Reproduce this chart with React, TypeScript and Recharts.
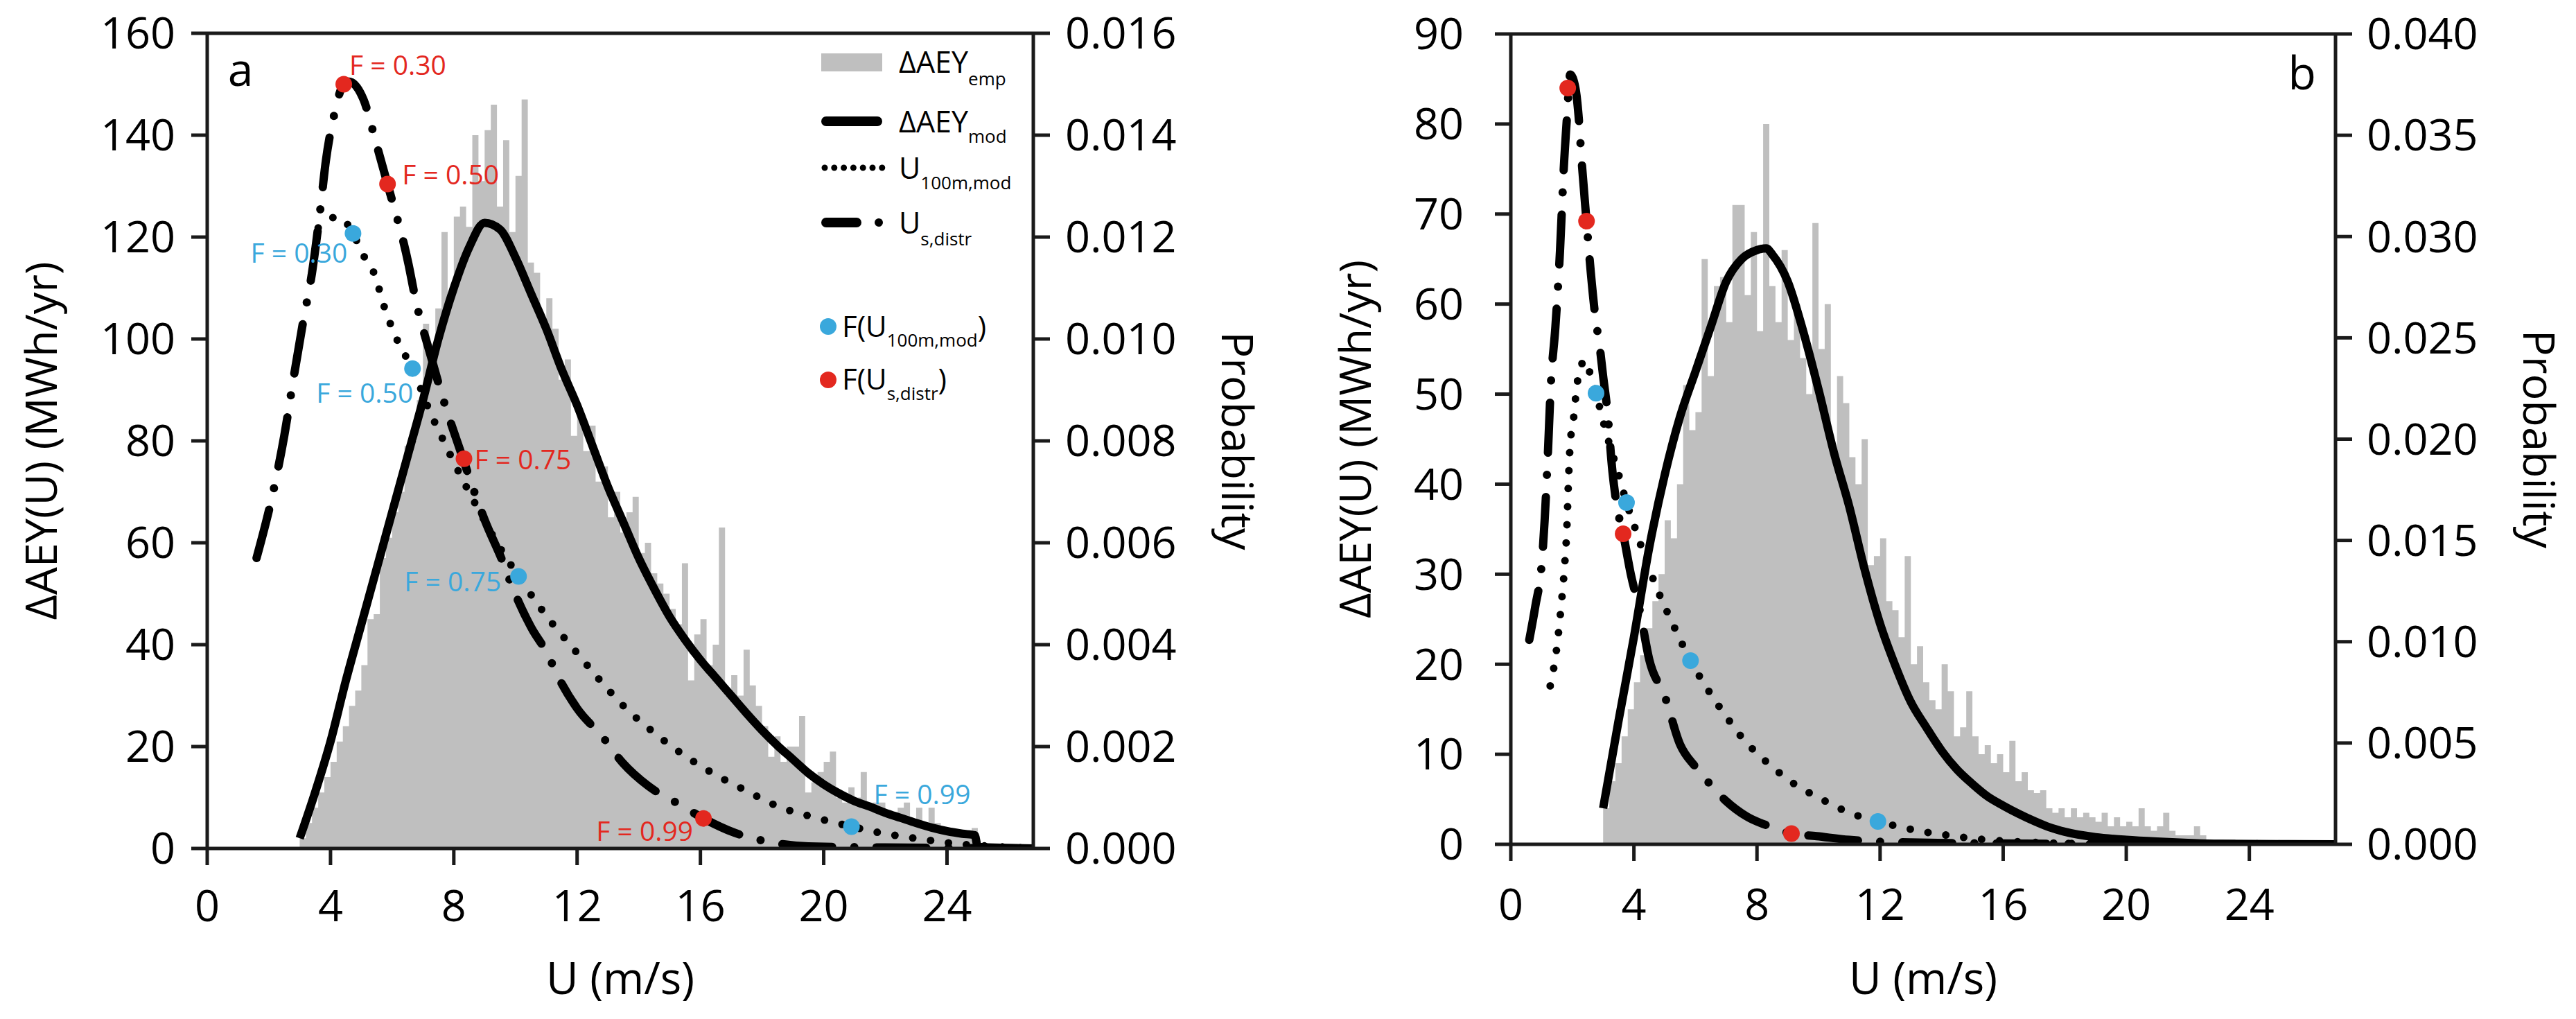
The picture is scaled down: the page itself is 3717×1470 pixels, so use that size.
import React from 'react';
import { ComposedChart, Area, Line, Scatter, XAxis, YAxis, ReferenceLine, Legend } from 'recharts';

const FONT = "'Open Sans', sans-serif";
const AXIS = '#1a1a1a';
const GRAY = '#bfbfbf';
const RED = '#e3281f';
const BLUE = '#3aa8dc';

// histogram bins: 0.2 m/s wide, first bin starts at 3.0 m/s
const BIN_WIDTH = 0.2;
const histStartA = 3.0;
const histStartB = 3.0;

// ΔAEY_emp per bin (MWh/yr), panel a
const histValuesA = [
  2, 5, 8, 11, 14, 17, 21, 24, 28, 31,
  36, 45, 46, 57, 61, 66, 70, 79, 80, 88,
  103, 94, 106, 121, 108, 124, 126, 122, 140, 131,
  141, 146, 126, 139, 121, 132, 147, 115, 113, 104,
  108, 102, 92, 96, 81, 86, 78, 83, 72, 75,
  65, 70, 62, 66, 69, 58, 60, 54, 52, 50,
  47, 44, 56, 33, 42, 45, 36, 40, 63, 30,
  34, 30, 39, 32, 28, 24, 18, 22, 17, 20,
  20, 26, 11, 13, 15, 17, 19, 10, 9, 12,
  10, 15, 8, 9, 9, 7, 6, 8, 9, 5,
  8, 5, 8, 5, 4, 4, 3, 3, 3, 4,
];

// ΔAEY_emp per bin (MWh/yr), panel b
const histValuesB = [
  4, 7, 9, 12, 15, 18, 21, 24, 27, 30,
  36, 34, 40, 51, 46, 48, 65, 52, 62, 63,
  58, 71, 71, 61, 68, 57, 80, 62, 58, 66,
  56, 60, 54, 50, 69, 55, 60, 44, 52, 49,
  43, 40, 45, 31, 32, 34, 27, 26, 23, 32,
  20, 22, 18, 16, 15, 20, 17, 12, 13, 17,
  12, 10, 11, 9, 10, 8, 11.5, 7, 8, 6,
  5.7, 6, 4, 3.5, 4, 3, 4, 3, 3.5, 3,
  2.5, 3.5, 2, 3, 2, 2.5, 2, 4, 2, 1.5,
  2, 3.5, 1.5, 1, 1, 1, 2, 1,
];

// ΔAEY_mod (MWh/yr), [U, value]
const aeyModA: [number, number][] = [
  [3.0, 2], [3.5, 11], [4.0, 21], [4.5, 33], [5.0, 44], [5.5, 55], [6.0, 66], [6.5, 77],
  [7.0, 88], [7.5, 100], [8.0, 110], [8.5, 118], [9.0, 122.8], [9.5, 121.5], [10.0, 116],
  [10.5, 109], [11.0, 102], [11.5, 94], [12.0, 87], [12.5, 79], [13.0, 71], [13.5, 64],
  [14.0, 57], [14.5, 51], [15.0, 45.5], [15.5, 41], [16.0, 37], [16.5, 33.5], [17.0, 30],
  [17.5, 26.5], [18.0, 23.2], [18.5, 20.2], [19.0, 17.5], [19.5, 14.8], [20.0, 12.6],
  [20.5, 10.8], [21.0, 9.3], [21.5, 8.2], [22.0, 7.0], [22.5, 6.0], [23.0, 5.0], [23.5, 4.1],
  [24.0, 3.4], [24.5, 2.9], [24.9, 2.6], [25.0, 0.3], [26.8, 0],
];
const aeyModB: [number, number][] = [
  [3.0, 4], [3.5, 13.7], [4.0, 23], [4.5, 33], [5.0, 41], [5.5, 47.5], [6.0, 52.5], [6.5, 57.5],
  [7.0, 62.5], [7.5, 65], [8.0, 66], [8.3, 66.2], [8.5, 65.5], [9.0, 62.5], [9.5, 57],
  [10.0, 50.5], [10.5, 43.5], [11.0, 37.5], [11.5, 30.5], [12.0, 24.5], [12.5, 19.8],
  [13.0, 15.8], [13.5, 13], [14.0, 10.4], [14.5, 8.3], [15.0, 6.7], [15.5, 5.3], [16.0, 4.3],
  [16.5, 3.4], [17.0, 2.6], [17.5, 1.9], [18.0, 1.4], [19.0, 0.8], [20.0, 0.5], [21.0, 0.3],
  [22.0, 0.15], [23.0, 0.05], [26.8, 0],
];

// U_100m,mod probability, [U, p]
const u100A: [number, number][] = [
  [3.6, 0.01218], [3.97, 0.01235], [4.2, 0.0124], [4.5, 0.01229], [4.73, 0.01207], [5.07, 0.01164],
  [5.42, 0.01128], [5.76, 0.0106], [6.2, 0.00993], [6.66, 0.00942], [7.22, 0.00858], [7.7, 0.00796],
  [8.25, 0.00728], [8.8, 0.00665], [9.4, 0.006], [10.1, 0.00534], [11.15, 0.00445], [11.94, 0.00388],
  [12.7, 0.00333], [13.5, 0.0028], [14.46, 0.00229], [15.4, 0.00186], [16.45, 0.00146], [17.5, 0.00113],
  [18.5, 0.00083], [19.7, 0.00061], [20.9, 0.00043], [21.9, 0.0003], [23.2, 0.00018], [24.5, 0.00008],
  [25.5, 0.00004], [26.5, 0.00001],
];
const u100B: [number, number][] = [
  [1.28, 0.00782], [1.5, 0.00978], [1.65, 0.012], [1.75, 0.01378], [1.82, 0.01556], [1.87, 0.01778],
  [1.93, 0.01978], [2.03, 0.02089], [2.15, 0.02267], [2.27, 0.02356], [2.42, 0.02391], [2.6, 0.02311],
  [2.77, 0.02227], [3.0, 0.02089], [3.2, 0.01978], [3.46, 0.01849], [3.76, 0.01687], [4.0, 0.01578],
  [4.4, 0.014], [4.8, 0.01244], [5.3, 0.01076], [5.84, 0.00907], [6.4, 0.00764], [7.0, 0.00631],
  [7.5, 0.00529], [8.0, 0.00449], [8.5, 0.00382], [9.0, 0.0032], [9.5, 0.00271], [10.0, 0.00231],
  [10.5, 0.00191], [11.0, 0.00156], [11.93, 0.00113], [12.7, 0.00084], [13.4, 0.00062], [14.0, 0.00049],
  [14.6, 0.00036], [15.5, 0.00022], [16.5, 0.00013], [17.5, 0.00007], [19.0, 0.00002],
];

// U_s,distr probability, [U, p]
const usDistrA: [number, number][] = [
  [1.6, 0.0057], [2.15, 0.00703], [2.5, 0.0081], [2.82, 0.0093], [3.1, 0.0103], [3.4, 0.0113],
  [3.66, 0.0125], [3.85, 0.0135], [4.1, 0.01435], [4.43, 0.015], [4.6, 0.01505], [5.07, 0.0147],
  [5.5, 0.0138], [5.85, 0.01304], [6.53, 0.01147], [6.75, 0.0108], [7.26, 0.00965], [7.65, 0.00883],
  [8.3, 0.00765], [8.55, 0.0072], [9.0, 0.00645], [9.58, 0.00564], [9.92, 0.0051], [10.5, 0.00435],
  [11.0, 0.00386], [11.47, 0.00327], [12.0, 0.00275], [12.84, 0.00218], [13.48, 0.00168],
  [14.3, 0.00123], [15.33, 0.00086], [16.1, 0.00059], [17.1, 0.00031], [18.3, 0.00012],
  [19.5, 0.00004], [22.0, 0.00002], [26.8, 0],
];
const usDistrB: [number, number][] = [
  [0.6, 0.01009], [0.8, 0.01178], [1.0, 0.01378], [1.1, 0.016], [1.2, 0.01911], [1.3, 0.02267],
  [1.45, 0.02556], [1.6, 0.02933], [1.72, 0.03333], [1.82, 0.03578], [1.93, 0.038], [2.1, 0.03733],
  [2.2, 0.036], [2.3, 0.03378], [2.46, 0.03076], [2.6, 0.02822], [2.75, 0.026], [2.88, 0.02467],
  [3.0, 0.02311], [3.13, 0.02151], [3.3, 0.01844], [3.45, 0.01667], [3.65, 0.01533], [3.9, 0.01333],
  [4.2, 0.01147], [4.5, 0.00911], [5.0, 0.00733], [5.5, 0.00493], [6.0, 0.00382], [6.5, 0.00293],
  [7.0, 0.00213], [7.66, 0.00138], [8.5, 0.00084], [9.12, 0.00053], [9.94, 0.0004], [11.0, 0.00022],
  [13.0, 0.00009], [16.0, 0.00004], [20.0, 0.00002], [26.8, 0],
];

// quantile markers F(U), [U, p, F]
const fU100A: [number, number, string][] = [
  [4.73, 0.01207, '0.30'], [6.66, 0.00942, '0.50'], [10.1, 0.00534, '0.75'], [20.9, 0.00043, '0.99'],
];
const fUsA: [number, number, string][] = [
  [4.43, 0.015, '0.30'], [5.85, 0.01304, '0.50'], [8.33, 0.00765, '0.75'], [16.1, 0.00059, '0.99'],
];
const fU100B: [number, number, string][] = [
  [2.77, 0.02227, '0.30'], [3.76, 0.01687, '0.50'], [5.84, 0.00907, '0.75'], [11.93, 0.00113, '0.99'],
];
const fUsB: [number, number, string][] = [
  [1.85, 0.03733, '0.30'], [2.46, 0.03076, '0.50'], [3.65, 0.01533, '0.75'], [9.12, 0.00053, '0.99'],
];

const xTicks = [0, 4, 8, 12, 16, 20, 24];
const leftTicksA = [0, 20, 40, 60, 80, 100, 120, 140, 160];
const rightTicksA = [0, 0.002, 0.004, 0.006, 0.008, 0.01, 0.012, 0.014, 0.016];
const leftTicksB = [0, 10, 20, 30, 40, 50, 60, 70, 80, 90];
const rightTicksB = [0, 0.005, 0.01, 0.015, 0.02, 0.025, 0.03, 0.035, 0.04];

// where the "F = ..." text sits relative to its marker (panel a only)
type LabelPos = { dx: number; dy: number; anchor: 'start' | 'end' };
const redLabelPosA: Record<string, LabelPos> = {
  '0.30': { dx: 8, dy: -29, anchor: 'start' },
  '0.50': { dx: 21, dy: -15, anchor: 'start' },
  '0.75': { dx: 15, dy: 0, anchor: 'start' },
  '0.99': { dx: -15, dy: 17, anchor: 'end' },
};
const blueLabelPosA: Record<string, LabelPos> = {
  '0.30': { dx: -8, dy: 27, anchor: 'end' },
  '0.50': { dx: 1, dy: 34, anchor: 'end' },
  '0.75': { dx: -25, dy: 6, anchor: 'end' },
  '0.99': { dx: 32, dy: -48, anchor: 'start' },
};

// step outline of the histogram: one point per bin start, plus the closing edge of the last bin
const toHist = (start: number, values: number[]) => {
  const pts = values.map((v, i) => ({ u: +(start + BIN_WIDTH * i).toFixed(2), v }));
  pts.push({ u: +(start + BIN_WIDTH * values.length).toFixed(2), v: values[values.length - 1] });
  return pts;
};
const toPts = (arr: [number, number][]) => arr.map(([u, p]) => ({ u, p }));
const toMarks = (arr: [number, number, string][]) => arr.map(([u, p, f]) => ({ u, p, f }));

const FMarker = (props: any) => {
  const { cx, cy, payload, color, labels } = props;
  const pos = labels ? labels[payload.f] : undefined;
  return (
    <g>
      <circle cx={cx} cy={cy} r={12} fill={color} />
      {pos && (
        <text x={cx + pos.dx} y={cy + pos.dy} textAnchor={pos.anchor} dominantBaseline="central"
          fontSize={39} fill={color}>
          F = {payload.f}
        </text>
      )}
    </g>
  );
};

const SUB = 26;
const LegendA = () => (
  <svg width={520} height={540} style={{ overflow: 'visible', fontFamily: FONT }}>
    <rect x={15} y={17} width={88} height={26} fill={GRAY} />
    <text x={127} y={45} fontSize={43}>ΔAEY<tspan fontSize={SUB} dy={18}>emp</tspan></text>
    <line x1={22} y1={115} x2={96} y2={115} stroke="#000" strokeWidth={14} strokeLinecap="round" />
    <text x={127} y={131} fontSize={43}>ΔAEY<tspan fontSize={SUB} dy={15}>mod</tspan></text>
    <line x1={20} y1={182} x2={103} y2={182} stroke="#000" strokeWidth={9}
      strokeDasharray="0 13.8" strokeLinecap="round" />
    <text x={127} y={198} fontSize={43}>U<tspan fontSize={SUB} dy={15}>100m,mod</tspan></text>
    <line x1={22} y1={261} x2={66} y2={261} stroke="#000" strokeWidth={14} strokeLinecap="round" />
    <circle cx={98} cy={261} r={6} fill="#000" />
    <text x={127} y={277} fontSize={43}>U<tspan fontSize={SUB} dy={17}>s,distr</tspan></text>
    <circle cx={25} cy={411} r={12} fill={BLUE} />
    <text x={45} y={426} fontSize={42}>F(U<tspan fontSize={SUB} dy={14}>100m,mod</tspan><tspan dy={-14}>)</tspan></text>
    <circle cx={25} cy={488} r={12} fill={RED} />
    <text x={45} y={502} fontSize={42}>F(U<tspan fontSize={SUB} dy={15}>s,distr</tspan><tspan dy={-15}>)</tspan></text>
  </svg>
);

type PanelProps = {
  width: number;
  plotTop: number;
  xAxisHeight: number;
  leftWidth: number;
  rightWidth: number;
  leftTicks: number[];
  rightTicks: number[];
  leftTickMargin: number;
  rightTickMargin: number;
  xTickMargin: number;
  leftTitleOffset: number;
  rightTitleOffset: number;
  hist: { u: number; v: number }[];
  aeyMod: [number, number][];
  u100: [number, number][];
  usDistr: [number, number][];
  fU100: [number, number, string][];
  fUs: [number, number, string][];
  blueLabels?: Record<string, LabelPos>;
  redLabels?: Record<string, LabelPos>;
  letter: string;
  letterX: number;
  letterY: number;
  letterAnchor: 'start' | 'middle' | 'end';
  legend?: boolean;
};

const tickStyle = { fontSize: 63, fill: '#000' };
const axisLine = { stroke: AXIS, strokeWidth: 5 };

const Panel = (p: PanelProps) => {
  const leftMax = p.leftTicks[p.leftTicks.length - 1];
  const rightMax = p.rightTicks[p.rightTicks.length - 1];
  return (
    <ComposedChart width={p.width} height={1470} data={p.hist}
      margin={{ top: p.plotTop, right: 0, bottom: 0, left: 0 }} style={{ fontFamily: FONT }}>
      <XAxis dataKey="u" type="number" domain={[0, 26.8]} allowDataOverflow ticks={xTicks}
        height={p.xAxisHeight} tick={tickStyle} tickSize={24} tickMargin={p.xTickMargin}
        axisLine={axisLine} tickLine={axisLine}
        label={{ value: 'U (m/s)', position: 'insideBottom', offset: 36, fontSize: 64, fill: '#000' }} />
      <YAxis yAxisId="left" domain={[0, leftMax]} allowDataOverflow ticks={p.leftTicks} width={p.leftWidth}
        tick={tickStyle} tickSize={23} tickMargin={p.leftTickMargin} axisLine={axisLine} tickLine={axisLine}
        label={{ value: 'ΔAEY(U) (MWh/yr)', angle: -90, position: 'insideLeft', offset: p.leftTitleOffset,
          fontSize: 63, fill: '#000', style: { textAnchor: 'middle' } }} />
      <YAxis yAxisId="right" orientation="right" domain={[0, rightMax]} allowDataOverflow ticks={p.rightTicks}
        width={p.rightWidth} tick={tickStyle} tickSize={24} tickMargin={p.rightTickMargin}
        tickFormatter={(v: number) => v.toFixed(3)} axisLine={axisLine} tickLine={axisLine}
        label={{ value: 'Probability', angle: 90, position: 'insideRight', offset: p.rightTitleOffset,
          fontSize: 63, fill: '#000', style: { textAnchor: 'middle' } }} />
      <ReferenceLine yAxisId="left" y={leftMax} stroke={AXIS} strokeWidth={5} />
      <Area yAxisId="left" dataKey="v" type="stepAfter" fill={GRAY} fillOpacity={1} stroke="none"
        dot={false} activeDot={false} isAnimationActive={false} />
      <Line yAxisId="left" data={p.aeyMod.map(([u, v]) => ({ u, v }))} dataKey="v" type="monotone"
        stroke="#000" strokeWidth={12} dot={false} activeDot={false} isAnimationActive={false} />
      <Line yAxisId="right" data={toPts(p.u100)} dataKey="p" type="monotone" stroke="#000"
        strokeWidth={11} strokeDasharray="0 26" strokeLinecap="round" dot={false} activeDot={false}
        isAnimationActive={false} />
      <Line yAxisId="right" data={toPts(p.usDistr)} dataKey="p" type="monotone" stroke="#000"
        strokeWidth={12} strokeDasharray="72 32 0 32" strokeLinecap="round" dot={false} activeDot={false}
        isAnimationActive={false} />
      <Scatter yAxisId="right" data={toMarks(p.fU100)} dataKey="p" isAnimationActive={false}
        shape={(s: any) => <FMarker {...s} color={BLUE} labels={p.blueLabels} />} />
      <Scatter yAxisId="right" data={toMarks(p.fUs)} dataKey="p" isAnimationActive={false}
        shape={(s: any) => <FMarker {...s} color={RED} labels={p.redLabels} />} />
      <text x={p.letterX} y={p.letterY} textAnchor={p.letterAnchor} fontSize={66} fill="#000">{p.letter}</text>
      {p.legend && (
        <Legend layout="horizontal" verticalAlign="middle" align="center"
          wrapperStyle={{ position: 'absolute', left: 1170, top: 60, width: 520, height: 540 }}
          content={() => <LegendA />} />
      )}
    </ComposedChart>
  );
};

export default function App() {
  return (
    <div style={{ position: 'absolute', left: 0, top: 0, width: 3717, height: 1470, background: '#fff', fontFamily: FONT }}>
      <div style={{ position: 'absolute', left: 0, top: 0 }}>
        <Panel width={1860} plotTop={48} xAxisHeight={246} leftWidth={299} rightWidth={369}
          leftTicks={leftTicksA} rightTicks={rightTicksA} leftTickMargin={23} rightTickMargin={22}
          xTickMargin={36} leftTitleOffset={60} rightTitleOffset={75}
          hist={toHist(histStartA, histValuesA)} aeyMod={aeyModA} u100={u100A} usDistr={usDistrA}
          fU100={fU100A} fUs={fUsA} blueLabels={blueLabelPosA} redLabels={redLabelPosA}
          letter="a" letterX={347} letterY={124} letterAnchor="middle" legend />
      </div>
      <div style={{ position: 'absolute', left: 1860, top: 0 }}>
        <Panel width={1857} plotTop={49} xAxisHeight={252} leftWidth={320} rightWidth={347}
          leftTicks={leftTicksB} rightTicks={rightTicksB} leftTickMargin={45} rightTickMargin={21}
          xTickMargin={40} leftTitleOffset={96} rightTitleOffset={54}
          hist={toHist(histStartB, histValuesB)} aeyMod={aeyModB} u100={u100B} usDistr={usDistrB}
          fU100={fU100B} fUs={fUsB}
          letter="b" letterX={1482} letterY={129} letterAnchor="end" />
      </div>
    </div>
  );
}
